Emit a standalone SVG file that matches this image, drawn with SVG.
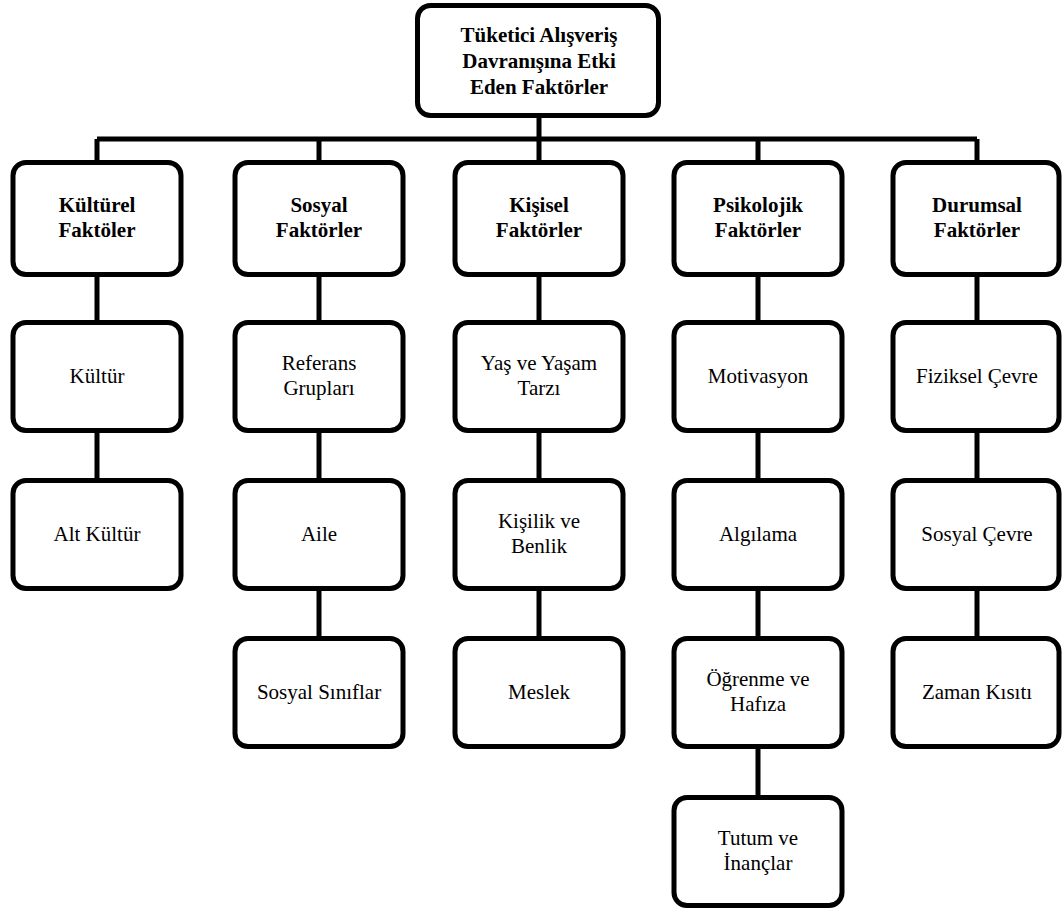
<svg xmlns="http://www.w3.org/2000/svg" width="1062" height="913" viewBox="0 0 1062 913" font-family="Liberation Serif, Times New Roman, serif">
  <style>
    .box { fill: #fff; stroke: #000; stroke-width: 5; }
    .wire { fill: none; stroke: #000; stroke-width: 5; }
    .h { font-family: "Liberation Serif", serif; font-weight: bold; font-size: 21px; fill: #000; text-anchor: middle; }
    .t { font-family: "Liberation Serif", serif; font-size: 21px; fill: #000; text-anchor: middle; }
  </style>
  <rect width="1062" height="913" fill="#fff"/>

  <!-- connectors -->
  <g id="connectors" class="wire">
    <path d="M539 117V139M97 139H977M97 139V162M319 139V162M539 139V162M758 139V162M977 139V162"/>
    <path d="M97 275V322M97 431V480"/>
    <path d="M319 275V322M319 431V480M319 589V638"/>
    <path d="M539 275V322M539 431V480M539 589V638"/>
    <path d="M758 275V322M758 431V480M758 589V638M758 747V797"/>
    <path d="M977 275V322M977 431V480M977 589V638"/>
  </g>

  <!-- root -->
  <g id="root">
    <rect class="box" x="417.5" y="5.5" width="241" height="110" rx="13"/>
    <text class="h" x="539" y="42">Tüketici Alışveriş</text>
    <text class="h" x="539" y="68">Davranışına Etki</text>
    <text class="h" x="539" y="94">Eden Faktörler</text>
  </g>

  <!-- column 1 -->
  <g id="kulturel">
    <rect class="box" x="13" y="162.5" width="168" height="112" rx="13"/>
    <text class="h" x="97" y="212">Kültürel</text>
    <text class="h" x="97" y="237">Faktöler</text>
  </g>
  <g id="kultur">
    <rect class="box" x="13" y="322.5" width="168" height="108" rx="13"/>
    <text class="t" x="97" y="383">Kültür</text>
  </g>
  <g id="alt-kultur">
    <rect class="box" x="13" y="480.5" width="168" height="108" rx="13"/>
    <text class="t" x="97" y="541">Alt Kültür</text>
  </g>

  <!-- column 2 -->
  <g id="sosyal">
    <rect class="box" x="235" y="162.5" width="168" height="112" rx="13"/>
    <text class="h" x="319" y="212">Sosyal</text>
    <text class="h" x="319" y="237">Faktörler</text>
  </g>
  <g id="referans">
    <rect class="box" x="235" y="322.5" width="168" height="108" rx="13"/>
    <text class="t" x="319" y="370">Referans</text>
    <text class="t" x="319" y="395">Grupları</text>
  </g>
  <g id="aile">
    <rect class="box" x="235" y="480.5" width="168" height="108" rx="13"/>
    <text class="t" x="319" y="541">Aile</text>
  </g>
  <g id="sosyal-siniflar">
    <rect class="box" x="235" y="638.5" width="168" height="108" rx="13"/>
    <text class="t" x="319" y="699">Sosyal Sınıflar</text>
  </g>

  <!-- column 3 -->
  <g id="kisisel">
    <rect class="box" x="455" y="162.5" width="168" height="112" rx="13"/>
    <text class="h" x="539" y="212">Kişisel</text>
    <text class="h" x="539" y="237">Faktörler</text>
  </g>
  <g id="yas">
    <rect class="box" x="455" y="322.5" width="168" height="108" rx="13"/>
    <text class="t" x="539" y="370">Yaş ve Yaşam</text>
    <text class="t" x="539" y="395">Tarzı</text>
  </g>
  <g id="kisilik">
    <rect class="box" x="455" y="480.5" width="168" height="108" rx="13"/>
    <text class="t" x="539" y="528">Kişilik ve</text>
    <text class="t" x="539" y="553">Benlik</text>
  </g>
  <g id="meslek">
    <rect class="box" x="455" y="638.5" width="168" height="108" rx="13"/>
    <text class="t" x="539" y="699">Meslek</text>
  </g>

  <!-- column 4 -->
  <g id="psikolojik">
    <rect class="box" x="674" y="162.5" width="168" height="112" rx="13"/>
    <text class="h" x="758" y="212">Psikolojik</text>
    <text class="h" x="758" y="237">Faktörler</text>
  </g>
  <g id="motivasyon">
    <rect class="box" x="674" y="322.5" width="168" height="108" rx="13"/>
    <text class="t" x="758" y="383">Motivasyon</text>
  </g>
  <g id="algilama">
    <rect class="box" x="674" y="480.5" width="168" height="108" rx="13"/>
    <text class="t" x="758" y="541">Algılama</text>
  </g>
  <g id="ogrenme">
    <rect class="box" x="674" y="638.5" width="168" height="108" rx="13"/>
    <text class="t" x="758" y="686">Öğrenme ve</text>
    <text class="t" x="758" y="711">Hafıza</text>
  </g>
  <g id="tutum">
    <rect class="box" x="674" y="797.5" width="168" height="108" rx="13"/>
    <text class="t" x="758" y="845">Tutum ve</text>
    <text class="t" x="758" y="870">İnançlar</text>
  </g>

  <!-- column 5 -->
  <g id="durumsal">
    <rect class="box" x="893" y="162.5" width="166" height="112" rx="13"/>
    <text class="h" x="977" y="212">Durumsal</text>
    <text class="h" x="977" y="237">Faktörler</text>
  </g>
  <g id="fiziksel">
    <rect class="box" x="893" y="322.5" width="166" height="108" rx="13"/>
    <text class="t" x="977" y="383">Fiziksel Çevre</text>
  </g>
  <g id="sosyal-cevre">
    <rect class="box" x="893" y="480.5" width="166" height="108" rx="13"/>
    <text class="t" x="977" y="541">Sosyal Çevre</text>
  </g>
  <g id="zaman">
    <rect class="box" x="893" y="638.5" width="166" height="108" rx="13"/>
    <text class="t" x="977" y="699">Zaman Kısıtı</text>
  </g>
</svg>
